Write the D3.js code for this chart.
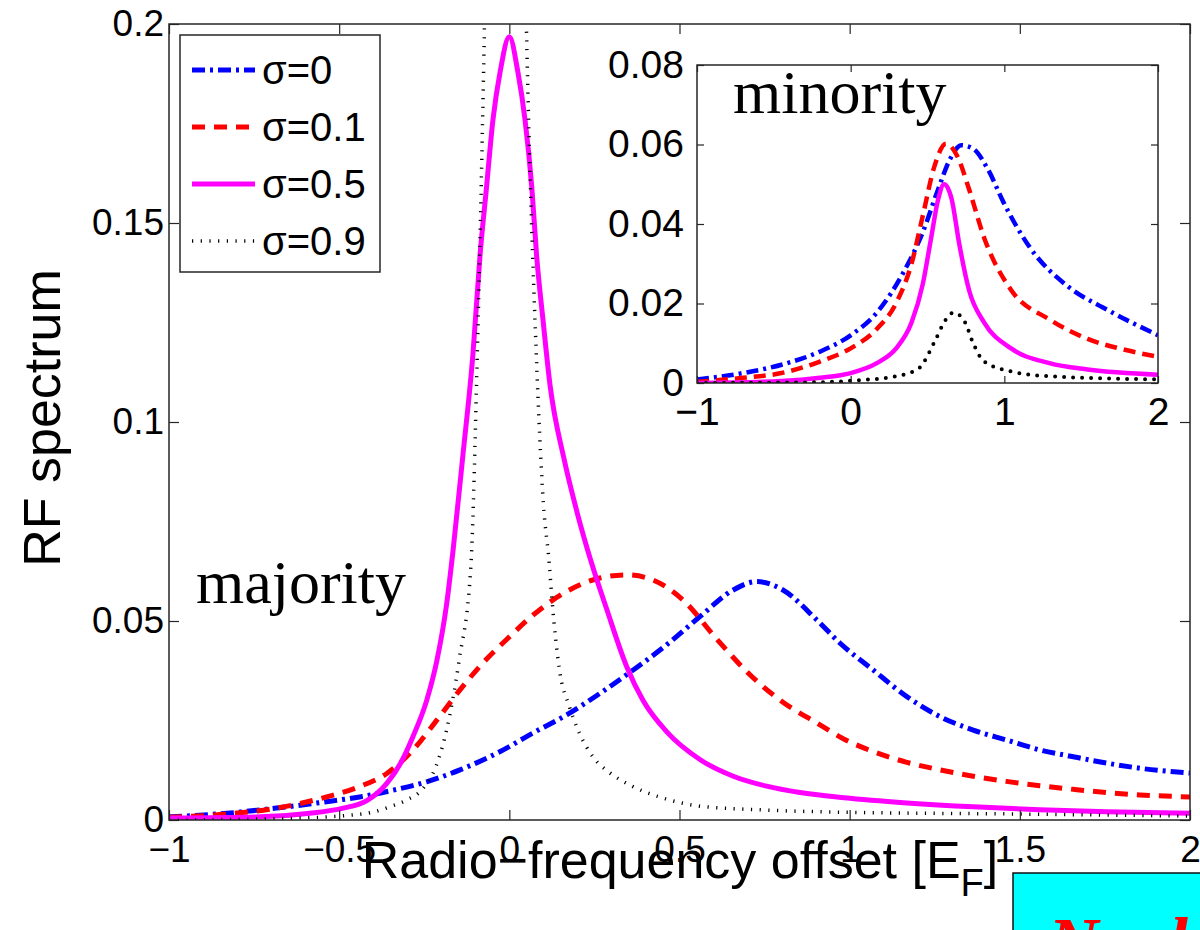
<!DOCTYPE html>
<html>
<head>
<meta charset="utf-8">
<script src="https://cdn.jsdelivr.net/npm/d3@7"></script>
<style>
  html, body { margin: 0; padding: 0; background: #fff; }
  svg { display: block; }
  text { font-family: "Liberation Sans", Arial, Helvetica, sans-serif; fill: #000; }
  .serif { font-family: "Liberation Serif", "Times New Roman", serif; }
</style>
</head>
<body>
<div id="chart"></div>
<script>
// ---------------- DATA ----------------
const seriesNames = ["σ=0", "σ=0.1", "σ=0.5", "σ=0.9"];

const mainXTicks = [-1, -0.5, 0, 0.5, 1, 1.5, 2];
const mainXTickLabels = ["−1", "−0.5", "0", "0.5", "1", "1.5", "2"];
const mainYTicks = [0, 0.05, 0.1, 0.15, 0.2];
const mainYTickLabels = ["0", "0.05", "0.1", "0.15", "0.2"];

const insetXTicks = [-1, 0, 1, 2];
const insetXTickLabels = ["−1", "0", "1", "2"];
const insetYTicks = [0, 0.02, 0.04, 0.06, 0.08];
const insetYTickLabels = ["0", "0.02", "0.04", "0.06", "0.08"];

// majority (main panel)
const majSigma0 = [[-1,0.0008],[-0.83,0.0017],[-0.684,0.003],[-0.537,0.0046],[-0.44,0.0058],[-0.341,0.0075],[-0.243,0.0096],[-0.145,0.0126],[-0.027,0.0172],[0.07,0.0219],[0.168,0.0264],[0.266,0.0318],[0.364,0.0377],[0.462,0.044],[0.56,0.0511],[0.658,0.0578],[0.727,0.0599],[0.804,0.0578],[0.903,0.0503],[0.972,0.0444],[1.069,0.0377],[1.168,0.031],[1.265,0.026],[1.363,0.0226],[1.461,0.0201],[1.559,0.0176],[1.657,0.0159],[1.755,0.0143],[1.853,0.013],[2.0,0.0118]];
const majSigma01 = [[-1,0.0007],[-0.83,0.0015],[-0.684,0.003],[-0.537,0.0058],[-0.44,0.0084],[-0.36,0.0117],[-0.283,0.0176],[-0.213,0.0251],[-0.145,0.0327],[-0.066,0.0405],[0.0,0.046],[0.07,0.0515],[0.168,0.0574],[0.266,0.0608],[0.345,0.0616],[0.422,0.0603],[0.51,0.0553],[0.609,0.0455],[0.707,0.0365],[0.804,0.0296],[0.903,0.0244],[0.984,0.0203],[1.069,0.0172],[1.168,0.0145],[1.265,0.0126],[1.363,0.0110],[1.461,0.0097],[1.559,0.0086],[1.657,0.0077],[1.755,0.0069],[1.853,0.0063],[2.0,0.0058]];
const majSigma05 = [[-1,0.0005],[-0.73,0.0008],[-0.586,0.0017],[-0.488,0.003],[-0.42,0.0048],[-0.36,0.0092],[-0.32,0.0142],[-0.283,0.021],[-0.243,0.030],[-0.213,0.040],[-0.184,0.0544],[-0.165,0.068],[-0.136,0.092],[-0.107,0.117],[-0.086,0.142],[-0.067,0.159],[-0.048,0.176],[-0.027,0.188],[0.0,0.1968],[0.025,0.188],[0.046,0.176],[0.066,0.159],[0.080,0.142],[0.099,0.1256],[0.12,0.109],[0.16,0.091],[0.20,0.077],[0.24,0.065],[0.286,0.053],[0.345,0.0385],[0.393,0.0300],[0.462,0.0222],[0.56,0.0152],[0.658,0.0110],[0.756,0.0085],[0.854,0.0069],[0.984,0.0056],[1.168,0.0043],[1.363,0.0033],[1.559,0.0026],[1.755,0.0021],[2.0,0.0017]];
const majSigma09 = [[-1,0.0],[-0.7,0.0003],[-0.5,0.001],[-0.4,0.002],[-0.352,0.0033],[-0.30,0.0051],[-0.255,0.0078],[-0.215,0.0136],[-0.186,0.022],[-0.147,0.0404],[-0.113,0.0638],[-0.094,0.1175],[-0.073,0.2],[-0.05,0.32],[-0.03,0.5],[-0.012,0.7],[0.006,0.5],[0.026,0.32],[0.05,0.2],[0.079,0.1175],[0.0997,0.08],[0.117,0.0647],[0.126,0.0547],[0.147,0.0379],[0.176,0.0286],[0.205,0.022],[0.249,0.0155],[0.293,0.012],[0.361,0.0085],[0.46,0.0053],[0.557,0.0035],[0.753,0.0025],[0.947,0.002],[1.5,0.0015],[2.0,0.001]];

// minority (inset)
const minSigma0 = [[-1,0.0009],[-0.70,0.0025],[-0.45,0.0046],[-0.20,0.0079],[0.0,0.012],[0.17,0.0177],[0.35,0.0283],[0.47,0.038],[0.57,0.0488],[0.645,0.0562],[0.72,0.0598],[0.795,0.059],[0.894,0.0537],[0.994,0.0455],[1.168,0.034],[1.417,0.0242],[1.666,0.0185],[2.0,0.012]];
const minSigma01 = [[-1,0.0003],[-0.70,0.0013],[-0.45,0.0025],[-0.2,0.0054],[0.0,0.0087],[0.17,0.0136],[0.296,0.0201],[0.396,0.030],[0.47,0.0422],[0.545,0.0545],[0.62,0.0602],[0.695,0.057],[0.77,0.0488],[0.869,0.0365],[1.044,0.0234],[1.293,0.016],[1.542,0.0111],[1.791,0.0083],[2.0,0.0066]];
const minSigma05 = [[-1,0.0],[-0.45,0.0005],[-0.2,0.0013],[0.0,0.0025],[0.17,0.005],[0.296,0.0087],[0.396,0.0152],[0.47,0.025],[0.52,0.0357],[0.57,0.0463],[0.608,0.050],[0.657,0.0463],[0.707,0.0349],[0.77,0.0234],[0.869,0.0152],[1.044,0.0087],[1.293,0.005],[1.542,0.0034],[2.0,0.0021]];
const minSigma09 = [[-1,0.0],[-0.2,0.0002],[0.05,0.0007],[0.296,0.0017],[0.446,0.0038],[0.545,0.0103],[0.62,0.016],[0.67,0.0177],[0.745,0.0152],[0.794,0.0103],[0.869,0.0054],[1.044,0.0029],[1.293,0.0017],[2.0,0.0009]];

const majorityData = [majSigma0, majSigma01, majSigma05, majSigma09];
const minorityData = [minSigma0, minSigma01, minSigma05, minSigma09];

// ---------------- STYLES ----------------
const colors = ["#0000ff", "#ff0000", "#ff00ff", "#000000"];
const mainStyles = [
  {w: 5, dash: "13,5,3,5", cap: "butt"},
  {w: 5, dash: "13,9", cap: "butt"},
  {w: 5, dash: null, cap: "butt"},
  {w: 3.5, dash: "1.2,7.5", cap: "butt"}
];
const insetStyles = [
  {w: 4.5, dash: "12,5,3,5", cap: "butt"},
  {w: 4.5, dash: "12,7", cap: "butt"},
  {w: 4.5, dash: null, cap: "butt"},
  {w: 4, dash: "0,9", cap: "round"}
];

const W = 1200, H = 930;
const svg = d3.select("#chart").append("svg").attr("width", W).attr("height", H);

// ---------------- MAIN PANEL ----------------
const M = {left: 169, right: 1190, top: 24, bottom: 820};
const x = d3.scaleLinear().domain([-1, 2]).range([M.left, M.right]);
const y = d3.scaleLinear().domain([0, 0.2]).range([M.bottom, M.top]);

svg.append("clipPath").attr("id", "clipMain").append("rect")
  .attr("x", M.left).attr("y", M.top).attr("width", M.right - M.left).attr("height", M.bottom - M.top);

const line = (xs, ys) => d3.line().x(d => xs(d[0])).y(d => ys(d[1])).curve(d3.curveMonotoneX);

const gMain = svg.append("g").attr("clip-path", "url(#clipMain)");
majorityData.forEach((ser, i) => {
  const st = mainStyles[i];
  gMain.append("path").datum(ser)
    .attr("d", line(x, y))
    .attr("fill", "none")
    .attr("stroke", colors[i])
    .attr("stroke-width", st.w)
    .attr("stroke-linecap", st.cap)
    .attr("stroke-linejoin", "round")
    .attr("stroke-dasharray", st.dash);
});

function styleAxis(g, fontSize) {
  g.select(".domain").remove();
  g.selectAll(".tick line").attr("stroke", "#262626").attr("stroke-width", 1.2);
  g.selectAll(".tick text").style("font-size", fontSize + "px").attr("fill", "#000");
}

// bottom axis with labels
svg.append("g").attr("transform", `translate(0,${M.bottom})`)
  .call(d3.axisBottom(x).tickValues(mainXTicks).tickSize(-10).tickPadding(16)
        .tickFormat((d, i) => mainXTickLabels[i]))
  .call(g => styleAxis(g, 37));
// top ticks
svg.append("g").attr("transform", `translate(0,${M.top})`)
  .call(d3.axisTop(x).tickValues(mainXTicks).tickSize(-10).tickFormat(""))
  .call(g => styleAxis(g, 37));
// left axis
svg.append("g").attr("transform", `translate(${M.left},0)`)
  .call(d3.axisLeft(y).tickValues(mainYTicks).tickSize(-10).tickPadding(5)
        .tickFormat((d, i) => mainYTickLabels[i]))
  .call(g => styleAxis(g, 37));
// right ticks
svg.append("g").attr("transform", `translate(${M.right},0)`)
  .call(d3.axisRight(y).tickValues(mainYTicks).tickSize(-10).tickFormat(""))
  .call(g => styleAxis(g, 37));

svg.append("rect").attr("x", M.left).attr("y", M.top)
  .attr("width", M.right - M.left).attr("height", M.bottom - M.top)
  .attr("fill", "none").attr("stroke", "#262626").attr("stroke-width", 1.5);

// axis labels
const xl = svg.append("text").attr("x", 680).attr("y", 878)
  .attr("text-anchor", "middle").style("font-size", "52px");
xl.append("tspan").text("Radio−frequency offset [E");
xl.append("tspan").attr("dy", 18).style("font-size", "38px").text("F");
xl.append("tspan").attr("dy", -18).text("]");

svg.append("text").attr("transform", `translate(60,${(M.top + M.bottom) / 2 - 4}) rotate(-90)`)
  .attr("text-anchor", "middle").style("font-size", "52px").text("RF spectrum");

svg.append("text").attr("class", "serif").attr("x", 196).attr("y", 603)
  .style("font-size", "62px").text("majority");

// ---------------- LEGEND ----------------
const L = {x: 180, y: 35, w: 200, h: 237};
svg.append("rect").attr("x", L.x).attr("y", L.y).attr("width", L.w).attr("height", L.h)
  .attr("fill", "#fff").attr("stroke", "#262626").attr("stroke-width", 1.5);
const legendY = [70, 127, 184, 241];
seriesNames.forEach((name, i) => {
  const st = mainStyles[i];
  svg.append("line").attr("x1", 192).attr("x2", 255).attr("y1", legendY[i]).attr("y2", legendY[i])
    .attr("stroke", colors[i]).attr("stroke-width", st.w)
    .attr("stroke-dasharray", st.dash).attr("stroke-linecap", st.cap);
  svg.append("text").attr("x", 262).attr("y", legendY[i] + 14)
    .style("font-size", "40px").text(name);
});

// ---------------- INSET ----------------
const I = {left: 697, right: 1158, top: 65, bottom: 383};
const xi = d3.scaleLinear().domain([-1, 2]).range([I.left, I.right]);
const yi = d3.scaleLinear().domain([0, 0.08]).range([I.bottom, I.top]);

svg.append("rect").attr("x", I.left).attr("y", I.top)
  .attr("width", I.right - I.left).attr("height", I.bottom - I.top).attr("fill", "#fff");

svg.append("clipPath").attr("id", "clipInset").append("rect")
  .attr("x", I.left).attr("y", I.top - 2).attr("width", I.right - I.left).attr("height", I.bottom - I.top + 2);

const gInset = svg.append("g").attr("clip-path", "url(#clipInset)");
minorityData.forEach((ser, i) => {
  const st = insetStyles[i];
  gInset.append("path").datum(ser)
    .attr("d", line(xi, yi))
    .attr("fill", "none")
    .attr("stroke", colors[i])
    .attr("stroke-width", st.w)
    .attr("stroke-linecap", st.cap)
    .attr("stroke-linejoin", "round")
    .attr("stroke-dasharray", st.dash);
});

svg.append("g").attr("transform", `translate(0,${I.bottom})`)
  .call(d3.axisBottom(xi).tickValues(insetXTicks).tickSize(-7).tickPadding(14)
        .tickFormat((d, i) => insetXTickLabels[i]))
  .call(g => styleAxis(g, 39));
svg.append("g").attr("transform", `translate(0,${I.top})`)
  .call(d3.axisTop(xi).tickValues(insetXTicks).tickSize(-7).tickFormat(""))
  .call(g => styleAxis(g, 39));
svg.append("g").attr("transform", `translate(${I.left},0)`)
  .call(d3.axisLeft(yi).tickValues(insetYTicks).tickSize(-7).tickPadding(13)
        .tickFormat((d, i) => insetYTickLabels[i]))
  .call(g => styleAxis(g, 39));
svg.append("g").attr("transform", `translate(${I.right},0)`)
  .call(d3.axisRight(yi).tickValues(insetYTicks).tickSize(-7).tickFormat(""))
  .call(g => styleAxis(g, 39));

svg.append("rect").attr("x", I.left).attr("y", I.top)
  .attr("width", I.right - I.left).attr("height", I.bottom - I.top)
  .attr("fill", "none").attr("stroke", "#262626").attr("stroke-width", 1.5);

svg.append("text").attr("class", "serif").attr("x", 733).attr("y", 113)
  .style("font-size", "62px").text("minority");

// ---------------- CORNER BOX ----------------
svg.append("rect").attr("x", 1013).attr("y", 873).attr("width", 200).attr("height", 80)
  .attr("fill", "#00ffff").attr("stroke", "#111").attr("stroke-width", 1.5);
svg.append("text").attr("class", "serif").attr("x", 1048).attr("y", 966)
  .style("font-size", "70px").style("font-weight", "bold").style("font-style", "italic")
  .attr("fill", "#ff0000").style("fill", "#ff0000").text("Nuclear");
</script>
</body>
</html>
